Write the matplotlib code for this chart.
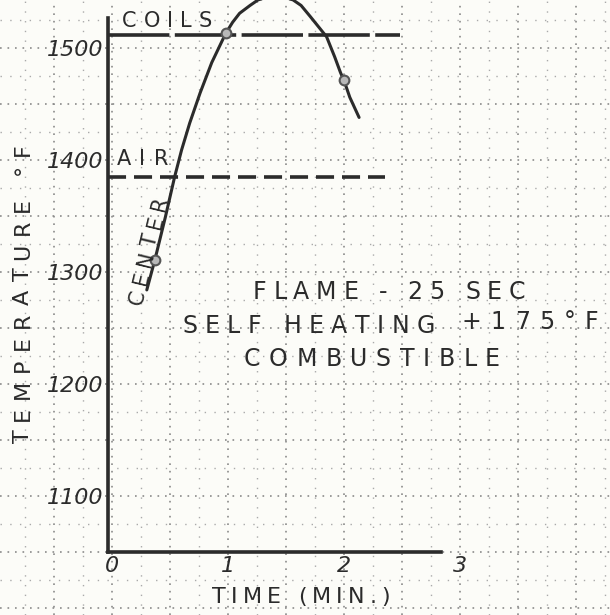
import math
import numpy as np
import matplotlib
matplotlib.use("Agg")
import matplotlib.pyplot as plt
from matplotlib.font_manager import FontProperties

# Center temperature trace (time in minutes, temperature in deg F)
time_min = [0.30, 0.37, 0.46, 0.54, 0.60, 0.67, 0.76, 0.86, 0.92, 0.98,
            1.04, 1.10, 1.19, 1.26, 1.41, 1.56, 1.63, 1.71, 1.85, 1.92,
            1.97, 2.00, 2.05, 2.13]
center_temp = [1284, 1311, 1349, 1385, 1409, 1433, 1460, 1487, 1500, 1513,
               1523, 1531, 1538, 1543, 1547, 1543, 1538, 1528, 1510, 1492,
               1478, 1471, 1456, 1438]

# Measured points marked on the trace
marker_time = [0.37, 0.98, 2.00]
marker_temp = [1311, 1513, 1471]

# Reference levels
coils_temp = 1512
air_temp = 1385

x_ticks = [0, 1, 2, 3]
x_tick_labels = ["0", "1", "2", "3"]
y_ticks = [1100, 1200, 1300, 1400, 1500]
y_tick_labels = ["1100", "1200", "1300", "1400", "1500"]

ink = "#2b2b2b"
paper = "#fcfcf8"
W, H = 610, 615

fig = plt.figure(figsize=(W / 100, H / 100), dpi=100, facecolor=paper)
ax = fig.add_axes([0, 0, 1, 1])
ax.set_facecolor(paper)
ax.set_xlim(-0.9655, 4.2931)
ax.set_ylim(993.75, 1542.86)

# graph-paper grid over the whole sheet
for xv in np.arange(-1.0, 4.5, 0.5):
    ax.axvline(xv, color="#8a8a8a", lw=1.2, ls=(0, (1, 3.5)), zorder=0)
for xv in np.arange(-0.75, 4.5, 0.5):
    ax.axvline(xv, color="#aaaaaa", lw=1.0, ls=(0, (1, 6)), zorder=0)
for yv in np.arange(1000, 1560, 50):
    ax.axhline(yv, color="#8a8a8a", lw=1.2, ls=(0, (1, 3.5)), zorder=0)
for yv in np.arange(1025, 1560, 50):
    ax.axhline(yv, color="#aaaaaa", lw=1.0, ls=(0, (1, 6)), zorder=0)

# axes frame
x0, y0 = -0.034, 1050
for s in ("top", "right"):
    ax.spines[s].set_visible(False)
ax.spines["left"].set_position(("data", x0))
ax.spines["bottom"].set_position(("data", y0))
ax.spines["left"].set_bounds(y0, 1527)
ax.spines["bottom"].set_bounds(x0, 2.84)
for s in ("left", "bottom"):
    ax.spines[s].set_color(ink)
    ax.spines[s].set_linewidth(2.6)
    ax.spines[s].set_zorder(3)

ax.set_xticks(x_ticks, x_tick_labels)
ax.set_yticks(y_ticks, y_tick_labels)
ax.tick_params(axis="both", length=0, colors=ink)
ax.tick_params(axis="x", pad=3, labelsize=16)
ax.tick_params(axis="y", pad=3, labelsize=16)
for lab in ax.get_xticklabels() + ax.get_yticklabels():
    lab.set_fontstyle("italic")

# reference levels
ax.plot([x0, 2.48], [coils_temp, coils_temp], color=ink, lw=2.6,
        ls=(0, (17, 1.5)), zorder=2)
ax.plot([x0, 2.35], [air_temp, air_temp], color=ink, lw=2.6,
        ls=(0, (5, 2.2)), zorder=2)

# temperature trace
ax.plot(time_min, center_temp, color=ink, lw=2.2, solid_joinstyle="round",
        solid_capstyle="round", zorder=4)
ax.plot(marker_time, marker_temp, ls="none", marker="o", ms=7,
        mfc="#b8b8b8", mec="#555555", mew=1.5, zorder=5)

renderer = fig.canvas.get_renderer()


def lettered(s, start, end, size):
    """Hand-lettering: spread the characters of s evenly along the line
    from start to end (pixel positions, origin top-left, on the text's
    middle line)."""
    prop = FontProperties(family="DejaVu Sans", size=size)
    em = size * 100 / 72
    widths = []
    for c in s:
        if c == " ":
            widths.append(0.3 * em)
        else:
            widths.append(renderer.get_text_width_height_descent(
                c, prop, ismath=False)[0])
    sx, sy = start[0], H - start[1]
    ex, ey = end[0], H - end[1]
    length = math.hypot(ex - sx, ey - sy)
    ux, uy = (ex - sx) / length, (ey - sy) / length
    angle = math.degrees(math.atan2(uy, ux))
    gap = (length - sum(widths)) / max(len(s) - 1, 1)
    half_cap = 0.729 * em / 2
    pos = 0.0
    for c, w in zip(s, widths):
        if c != " ":
            cx = sx + ux * pos + uy * half_cap
            cy = sy + uy * pos - ux * half_cap
            fig.text(cx / W, cy / H, c, fontproperties=prop, color=ink,
                     rotation=angle, rotation_mode="anchor",
                     ha="left", va="baseline", zorder=6)
        pos += w + gap


lettered("COILS", (122, 19), (212, 19), 15)
lettered("AIR", (117, 157), (168, 157), 15)
lettered("CENTER", (134, 304), (160, 196), 15)
lettered("FLAME - 25 SEC", (253, 290), (525, 290), 17)
lettered("SELF HEATING", (182, 324), (435, 324), 17)
lettered("+175°F", (462, 320), (598, 320), 17)
lettered("COMBUSTIBLE", (244, 357), (500, 357), 17)
lettered("TEMPERATURE °F", (21, 443), (21, 143), 16)
lettered("TIME (MIN.)", (212, 595), (390, 595), 16)

fig.savefig("out.png", dpi=100, facecolor=paper)
